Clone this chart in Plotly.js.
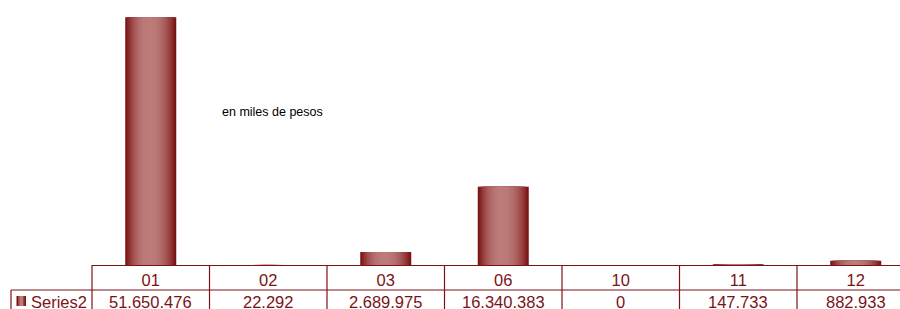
<!DOCTYPE html>
<html>
<head>
<meta charset="utf-8">
<script src="https://cdn.plot.ly/plotly-3.0.1.min.js"></script>
<style>
html,body{margin:0;padding:0;background:#fff;}
#chart{width:900px;height:309px;}
</style>
</head>
<body>
<div id="chart"></div>
<script>
// ---- data ----
var categories = ["01", "02", "03", "06", "10", "11", "12"];
var values = [51650476, 22292, 2689975, 16340383, 0, 147733, 882933];
var seriesName = "Series2";
var unitNote = "en miles de pesos";

// ---- style ----
var DARK = [123, 19, 21];
var LIGHT = [188, 123, 121];
var TXT = "#7b1315";
var FONT = "Arial, 'Liberation Sans', sans-serif";
var barWidth = 0.434;
var peak = 0.47;
var K = 14;

function mix(a, b, f) {
  return "rgb(" + a.map(function (v, i) { return Math.round(v + (b[i] - v) * f); }).join(",") + ")";
}
function fmt(v) {
  return String(v).replace(/\B(?=(\d{3})+(?!\d))/g, ".");
}

var traces = [];
for (var k = 0; k < K; k++) {
  var l = (k / K) * peak;
  var r = 1 - (k / K) * (1 - peak);
  var f = k / (K - 1);
  var ease = 1 - Math.pow(1 - f, 2.2);
  traces.push({
    type: "bar",
    x: categories,
    y: values,
    width: categories.map(function () { return barWidth * (r - l); }),
    offset: categories.map(function () { return -barWidth / 2 + barWidth * l; }),
    marker: { color: mix(DARK, LIGHT, ease), line: { width: 0 } },
    hoverinfo: "skip",
    showlegend: false
  });
}

// geometry helpers (paper coordinates relative to plot area 92..900 x 0..265)
var plotL = 92, plotW = 808, plotH = 265;
function px2paperX(px) { return (px - plotL) / plotW; }
function py2paperY(py) { return (plotH - py) / plotH; }

var shapes = [];
var lineStyle = { color: TXT, width: 1.2 };
// horizontal line between header row and value row
shapes.push({ type: "line", xref: "paper", yref: "paper", x0: px2paperX(11), x1: 1.05, y0: py2paperY(290), y1: py2paperY(290), line: lineStyle });
// vertical separators between categories
for (var i = 0; i < categories.length; i++) {
  shapes.push({ type: "line", xref: "x", yref: "paper", x0: i + 0.5, x1: i + 0.5, y0: py2paperY(265), y1: py2paperY(312), line: lineStyle });
}
// left border of table at plot edge
shapes.push({ type: "line", xref: "paper", yref: "paper", x0: 0, x1: 0, y0: py2paperY(265), y1: py2paperY(312), line: lineStyle });
// left border of series label cell
shapes.push({ type: "line", xref: "paper", yref: "paper", x0: px2paperX(11), x1: px2paperX(11), y0: py2paperY(290), y1: py2paperY(312), line: lineStyle });
// legend key (small gradient square)
var keyStrips = [[16.5, 26, 0], [18, 24.5, 0.5], [19.5, 23, 1]];
keyStrips.forEach(function (s) {
  shapes.push({ type: "rect", xref: "paper", yref: "paper", x0: px2paperX(s[0]), x1: px2paperX(s[1]), y0: py2paperY(306), y1: py2paperY(296), fillcolor: mix(DARK, LIGHT, s[2]), line: { width: 0 } });
});

var annotations = [];
annotations.push({ xref: "paper", yref: "paper", x: px2paperX(29), y: py2paperY(302), xanchor: "left", yanchor: "middle", text: seriesName, showarrow: false, font: { family: FONT, size: 16.5, color: TXT } });
categories.forEach(function (c, i) {
  annotations.push({ xref: "x", yref: "paper", x: i, y: py2paperY(302), xanchor: "center", yanchor: "middle", text: fmt(values[i]), showarrow: false, font: { family: FONT, size: 16.5, color: TXT } });
});
annotations.push({ xref: "paper", yref: "paper", x: px2paperX(272), y: py2paperY(112), xanchor: "center", yanchor: "middle", text: unitNote, showarrow: false, font: { family: FONT, size: 12.5, color: "#000" } });

var layout = {
  width: 900, height: 309,
  margin: { l: 92, r: 0, t: 0, b: 44 },
  paper_bgcolor: "#fff", plot_bgcolor: "#fff",
  barmode: "overlay",
  showlegend: false,
  xaxis: {
    type: "category",
    range: [-0.5, -0.5 + 808 / 117.5],
    showline: true, linecolor: TXT, linewidth: 1.2,
    showgrid: false, zeroline: false,
    ticks: "", ticklen: 0,
    tickfont: { family: FONT, size: 16.5, color: TXT },
    ticklabelstandoff: 0
  },
  yaxis: {
    range: [0, 55258000],
    visible: false, showgrid: false, zeroline: false
  },
  shapes: shapes,
  annotations: annotations
};

Plotly.newPlot("chart", traces, layout, { displayModeBar: false, staticPlot: true });
</script>
</body>
</html>
